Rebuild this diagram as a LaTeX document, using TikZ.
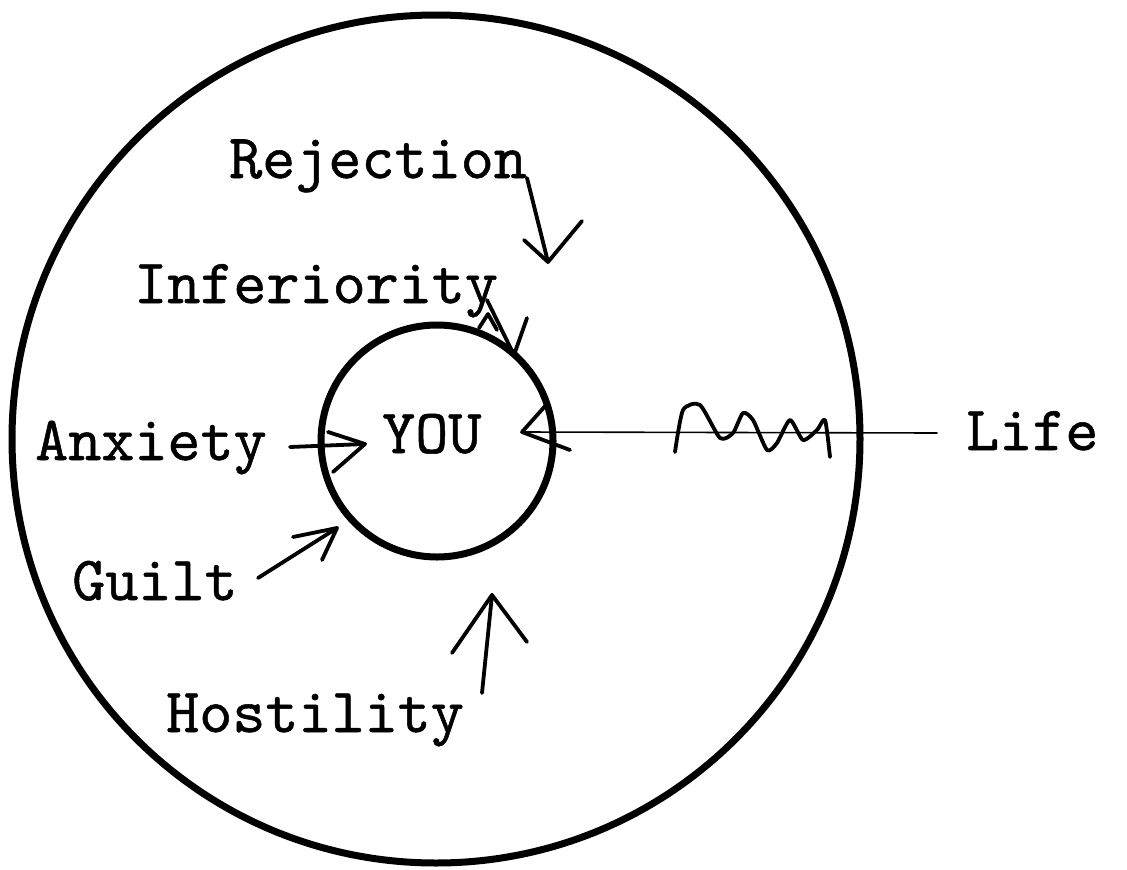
\documentclass[tikz,border=0pt]{standalone}
\usepackage{fontspec}
\newfontfamily\twfont{lmmono10-regular.otf}[FakeBold=0.8]
\begin{document}
\begin{tikzpicture}[x=1pt,y=-1pt,
  lbl/.style={font=\fontsize{63}{70}\selectfont\twfont, inner sep=0pt, anchor=base west},
  pen/.style={line width=3.8pt, line cap=round, line join=round},
  thinpen/.style={line width=1.6pt, line cap=round, line join=round},
  ring/.style={circle, draw, inner sep=0pt}]
\useasboundingbox (0,0) rectangle (1127,870);
\fill[white] (0,0) rectangle (1127,870);
\node[ring, line width=7pt, minimum size=848pt] (outer) at (436,439) {};
\node[ring, line width=7pt, minimum size=232pt] (inner) at (437,441) {};
% labels
\node[lbl] (rej) at (229,178) {Rejection};
\node[lbl] (inf) at (134,303) {Inferiority};
\node[lbl] (anx) at (35,460) {Anxiety};
\node[lbl] (you) at (382,453) {YOU};
\node[lbl] (life) at (966,450) {Life};
\node[lbl] (guilt) at (72,600) {Guilt};
\node[lbl] (host) at (166,732) {Hostility};
% Rejection arrow
\coordinate (r1) at (527,178);
\coordinate (r2) at (548,262);
\coordinate (r3) at (524,240);
\coordinate (r4) at (582,221);
\draw[pen] (r1) -- (r2) -- (r4);
\draw[pen] (r3) -- (r2);
% Inferiority arrow
\coordinate (i1) at (487,300);
\coordinate (i2) at (514,355);
\coordinate (i3) at (527,318);
\coordinate (i4) at (479,328);
\coordinate (i5) at (488,314);
\coordinate (i6) at (497,330);
\draw[pen] (i1) -- (i2) -- (i3);
\draw[pen] (i4) -- (i5) -- (i6);
% Anxiety arrow
\coordinate (a1) at (290,447);
\coordinate (a2) at (365,444);
\coordinate (a3) at (328,432);
\coordinate (a4) at (333,472);
\draw[pen] (a1) -- (a2);
\draw[pen] (a3) -- (a2) -- (a4);
% Life arrow
\coordinate (l0) at (937,433);
\coordinate (l1) at (522,432);
\coordinate (l2) at (547,404);
\coordinate (l3) at (570,450);
\draw[thinpen] (l0) -- (l1);
\draw[pen] (l2) -- (l1) -- (l3);
\draw[pen] plot[smooth, tension=0.4] coordinates {(675,452) (683,410) (700,405) (720,438) (733,433) (743,413) (753,420) (767,450) (777,443) (790,420) (803,440) (817,430) (825,420) (830,457)};
% Guilt arrow
\coordinate (g1) at (258,578);
\coordinate (g2) at (337,528);
\coordinate (g3) at (293,537);
\coordinate (g4) at (322,560);
\draw[pen] (g1) -- (g2);
\draw[pen] (g3) -- (g2) -- (g4);
% Hostility arrow
\coordinate (h1) at (482,693);
\coordinate (h2) at (492,595);
\coordinate (h3) at (452,653);
\coordinate (h4) at (527,642);
\draw[pen] (h1) -- (h2);
\draw[pen] (h3) -- (h2) -- (h4);
\end{tikzpicture}
\end{document}
